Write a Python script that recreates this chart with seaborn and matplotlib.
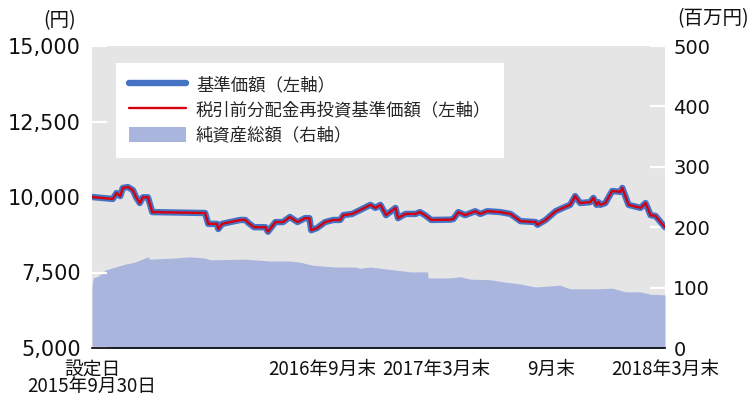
import matplotlib
matplotlib.use("Agg")
import matplotlib.pyplot as plt
import matplotlib.ticker as mticker
from matplotlib.patches import Patch
from matplotlib.lines import Line2D
import seaborn as sns
import pandas as pd

# ---------------- data ----------------
nav_dates = [
    "2015-09-30", "2015-11-02", "2015-11-08", "2015-11-14", "2015-11-18", "2015-11-26",
    "2015-12-04", "2015-12-09", "2015-12-15", "2015-12-20", "2015-12-28", "2016-01-04",
    "2016-03-28", "2016-04-02", "2016-04-16", "2016-04-18", "2016-04-24", "2016-05-07",
    "2016-05-23", "2016-05-31", "2016-06-05", "2016-06-14", "2016-07-02", "2016-07-06",
    "2016-07-18", "2016-07-30", "2016-08-10", "2016-08-22", "2016-09-03", "2016-09-10",
    "2016-09-13", "2016-09-22", "2016-10-05", "2016-10-18", "2016-10-29", "2016-11-03",
    "2016-11-17", "2016-11-30", "2016-12-16", "2016-12-24", "2017-01-01", "2017-01-10",
    "2017-01-25", "2017-01-29", "2017-02-10", "2017-02-26", "2017-03-05", "2017-03-13",
    "2017-03-23", "2017-04-22", "2017-04-27", "2017-05-05", "2017-05-16", "2017-06-01",
    "2017-06-09", "2017-06-20", "2017-07-11", "2017-07-27", "2017-08-12", "2017-09-05",
    "2017-09-08", "2017-09-21", "2017-10-07", "2017-10-22", "2017-10-30", "2017-11-07",
    "2017-11-15", "2017-12-01", "2017-12-06", "2017-12-11", "2017-12-14", "2017-12-17",
    "2017-12-25", "2018-01-05", "2018-01-18", "2018-01-21", "2018-01-31", "2018-02-19",
    "2018-02-27", "2018-03-07", "2018-03-15", "2018-03-23", "2018-03-30",
]
nav_values = [
    10000, 9935, 10130, 10030, 10300, 10330,
    10230, 10000, 9800, 9990, 9990, 9500,
    9470, 9110, 9110, 8940, 9110, 9170,
    9240, 9240, 9140, 9000, 9000, 8850,
    9170, 9170, 9340, 9170, 9300, 9300,
    8900, 8970, 9170, 9240, 9240, 9400,
    9440, 9570, 9740, 9640, 9740, 9400,
    9640, 9300, 9440, 9440, 9500, 9400,
    9240, 9250, 9270, 9500, 9400, 9530,
    9440, 9530, 9500, 9440, 9200, 9170,
    9080, 9240, 9530, 9670, 9740, 10030,
    9800, 9830, 9970, 9740, 9830, 9740,
    9800, 10200, 10170, 10300, 9740, 9640,
    9800, 9400, 9370, 9170, 9000,
]
reinv_values = [
    10000, 9935, 10130, 10030, 10300, 10330,
    10230, 10000, 9800, 9990, 9990, 9500,
    9470, 9110, 9110, 8940, 9110, 9170,
    9240, 9240, 9140, 9000, 9000, 8850,
    9170, 9170, 9340, 9170, 9300, 9300,
    8900, 8970, 9170, 9240, 9240, 9400,
    9440, 9570, 9740, 9640, 9740, 9400,
    9640, 9300, 9440, 9440, 9500, 9400,
    9240, 9250, 9270, 9500, 9400, 9530,
    9440, 9530, 9500, 9440, 9200, 9170,
    9080, 9240, 9530, 9670, 9740, 10030,
    9800, 9830, 9970, 9740, 9830, 9740,
    9800, 10200, 10170, 10300, 9740, 9640,
    9800, 9400, 9370, 9170, 9000,
]

asset_dates = [
    "2015-09-30", "2015-10-02", "2015-10-10", "2015-10-21", "2015-11-06", "2015-11-22",
    "2015-12-07", "2015-12-28", "2015-12-31", "2016-02-09", "2016-03-04", "2016-03-28",
    "2016-04-05", "2016-05-31", "2016-07-10", "2016-08-10", "2016-08-26", "2016-09-16",
    "2016-10-21", "2016-11-22", "2016-11-30", "2016-12-16", "2017-01-01", "2017-01-25",
    "2017-02-18", "2017-03-17", "2017-03-18", "2017-04-22", "2017-05-08", "2017-05-24",
    "2017-06-25", "2017-07-19", "2017-08-12", "2017-09-05", "2017-10-14", "2017-10-30",
    "2017-12-09", "2018-01-05", "2018-01-26", "2018-02-19", "2018-03-07", "2018-03-30",
]
asset_values = [
    101, 116, 119, 129, 134, 139,
    142, 151, 147, 149, 151, 149,
    146, 147, 144, 144, 142, 137,
    134, 134, 132, 134, 132, 129,
    126, 126, 116, 116, 118, 114,
    113, 109, 106, 101, 104, 98,
    98, 99, 93, 93, 89, 88,
]

tick_dates = ["2015-09-30", "2016-09-30", "2017-03-31", "2017-09-29", "2018-03-30"]
tick_labels = ["設定日\n2015年9月30日", "2016年9月末", "2017年3月末", "9月末", "2018年3月末"]
left_ticks = [5000, 7500, 10000, 12500, 15000]
right_ticks = [0, 100, 200, 300, 400, 500]

series_names = ["基準価額（左軸）", "税引前分配金再投資基準価額（左軸）", "純資産総額（右軸）"]

# ---------------- style ----------------
sns.set_theme(style="white")
plt.rcParams["font.family"] = ["Noto Sans CJK JP", "DejaVu Sans"]

BLUE = "#4573c4"
RED = "#d4000f"
AREA = "#aab5de"
BG = "#e5e5e5"
TXT = "#111111"

nav = pd.DataFrame({"date": pd.to_datetime(nav_dates), "nav": nav_values, "reinv": reinv_values})
assets = pd.DataFrame({"date": pd.to_datetime(asset_dates), "assets": asset_values})

fig = plt.figure(figsize=(7.52, 4.03), dpi=100)
ax = fig.add_axes([92 / 752, 55 / 403, 573 / 752, 302 / 403])
ax2 = ax.twinx()
ax.set_zorder(ax2.get_zorder() + 1)
ax.patch.set_visible(False)
ax2.patch.set_visible(True)
ax2.set_facecolor(BG)

# area on right axis
ax2.fill_between(assets["date"], assets["assets"], 0, color=AREA, lw=0)

# lines on left axis
sns.lineplot(data=nav, x="date", y="nav", ax=ax, color=BLUE, lw=4.6,
             estimator=None, sort=False, legend=False, solid_capstyle="round")
sns.lineplot(data=nav, x="date", y="reinv", ax=ax, color=RED, lw=1.7,
             estimator=None, sort=False, legend=False)

xmin, xmax = pd.Timestamp(tick_dates[0]), pd.Timestamp(tick_dates[-1])
ax.set_xlim(xmin, xmax)
ax.set_ylim(left_ticks[0], left_ticks[-1])
ax2.set_ylim(right_ticks[0], right_ticks[-1])

ax.set_xticks(pd.to_datetime(tick_dates))
ax.set_xticklabels(tick_labels, fontsize=13.5, linespacing=0.78)
ax.set_yticks(left_ticks)
ax.yaxis.set_major_formatter(mticker.FuncFormatter(lambda v, p: f"{int(v):,}"))
ax2.set_yticks(right_ticks)
ax.set_xlabel("")
ax.set_ylabel("")
ax2.set_ylabel("")

ax.tick_params(axis="x", direction="in", color="white", length=7.5, width=1.6, pad=7.5,
               labelcolor=TXT)
ax.tick_params(axis="y", direction="in", color="white", length=11, width=1.6, pad=8,
               labelsize=15, labelcolor=TXT)
ax2.tick_params(axis="y", direction="in", color="white", length=11, width=1.6, pad=6,
                labelsize=14, labelcolor=TXT)
for lab in ax.get_yticklabels() + ax2.get_yticklabels():
    lab.set_family("DejaVu Sans")

for a in (ax, ax2):
    for s in ("top", "left", "right"):
        a.spines[s].set_visible(False)
ax2.spines["bottom"].set_visible(False)
ax.spines["bottom"].set_visible(True)
ax.spines["bottom"].set_color("black")
ax.spines["bottom"].set_linewidth(1.2)

# legend
handles = [
    Line2D([0], [0], color=BLUE, lw=4.6, solid_capstyle="round"),
    Line2D([0], [0], color=RED, lw=1.7),
    Patch(facecolor=AREA, edgecolor="none"),
]
leg = ax.legend(handles, series_names, loc="upper left", bbox_to_anchor=(0.042, 0.944),
                frameon=True, fancybox=False, framealpha=1, edgecolor="white",
                facecolor="white", fontsize=12.5, handlelength=3.3, handletextpad=0.55,
                handleheight=1.0, labelspacing=0.42, borderpad=0.75, borderaxespad=0)
leg.get_frame().set_linewidth(0)

# unit labels
fig.text(60 / 752, 1 - 21 / 403, "(円)", ha="center", va="center", fontsize=14, color=TXT)
fig.text(749 / 752, 1 - 19 / 403, "(百万円)", ha="right", va="center", fontsize=14, color=TXT)

fig.savefig("out.png", dpi=100, facecolor="white")
